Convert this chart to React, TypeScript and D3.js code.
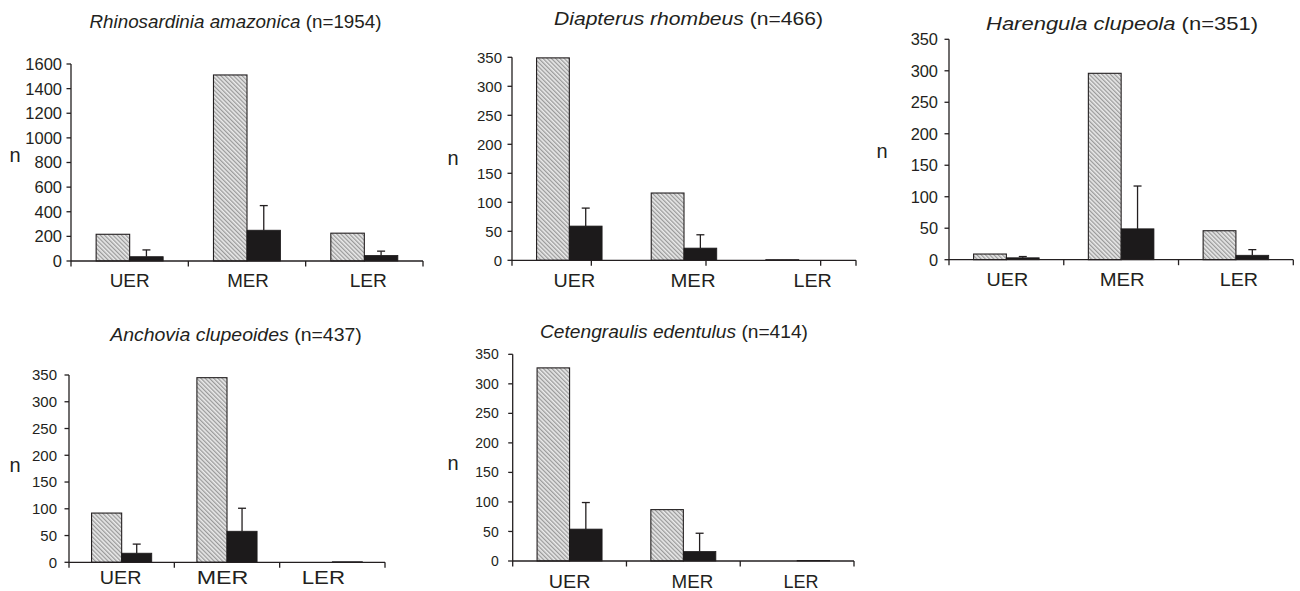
import React from "react";
import * as d3 from "d3";

// ---------- data ----------
const categories = ["UER", "MER", "LER"];

const rhinoTotal = [217, 1511, 226];
const rhinoMean = [35, 250, 45];
const rhinoSD = [55, 200, 35];

const diapTotal = [349, 116, 1];
const diapMean = [59, 21, 0];
const diapSD = [31, 23, 0];

const harenTotal = [9, 296, 46];
const harenMean = [3, 49, 7];
const harenSD = [2, 68, 9];

const anchTotal = [92, 345, 0];
const anchMean = [17, 58, 1];
const anchSD = [17, 43, 0];

const cetTotal = [327, 87, 0];
const cetMean = [54, 16, 1];
const cetSD = [45, 31, 0];

const rhinoTicks = [0, 200, 400, 600, 800, 1000, 1200, 1400, 1600];
const smallTicks = [0, 50, 100, 150, 200, 250, 300, 350];

// ---------- layout ----------
type Panel = {
  species: string;
  nText: string;
  total: number[];
  mean: number[];
  sd: number[];
  ticks: number[];
  x0: number; x1: number; yTop: number; yBottom: number;
  titleX: number; titleY: number; titleW: number;
  nX: number; nY: number;
  tickFont: number; tickGap: number;
  catY: number; catShift: number[]; catW: number[];
  xTickShift?: number;
};

const panels: Panel[] = [
  {
    species: "Rhinosardinia amazonica", nText: " (n=1954)",
    total: rhinoTotal, mean: rhinoMean, sd: rhinoSD, ticks: rhinoTicks,
    x0: 71, x1: 423, yTop: 64, yBottom: 261,
    titleX: 235.5, titleY: 28.3, titleW: 292,
    nX: 9.5, nY: 161.7, tickFont: 16.5, tickGap: 9,
    catY: 287, catShift: [0, 1, 4], catW: [40, 41.7, 37.3],
  },
  {
    species: "Diapterus rhombeus", nText: " (n=466)",
    total: diapTotal, mean: diapMean, sd: diapSD, ticks: smallTicks,
    x0: 512, x1: 856, yTop: 57.3, yBottom: 260.3,
    titleX: 688.5, titleY: 24.5, titleW: 269,
    nX: 447.5, nY: 165, tickFont: 15, tickGap: 10,
    catY: 286.7, catShift: [5, 9, 14], catW: [41.7, 45, 38.3],
    xTickShift: 22,
  },
  {
    species: "Harengula clupeola", nText: " (n=351)",
    total: harenTotal, mean: harenMean, sd: harenSD, ticks: smallTicks,
    x0: 949, x1: 1293.3, yTop: 39.3, yBottom: 259.7,
    titleX: 1122, titleY: 30, titleW: 272,
    nX: 876.5, nY: 158, tickFont: 16.4, tickGap: 11,
    catY: 286, catShift: [1, 1, 3], catW: [41.7, 45, 38.3],
  },
  {
    species: "Anchovia clupeoides", nText: " (n=437)",
    total: anchTotal, mean: anchMean, sd: anchSD, ticks: smallTicks,
    x0: 69, x1: 385, yTop: 375, yBottom: 562.3,
    titleX: 236, titleY: 340.7, titleW: 251.7,
    nX: 9.5, nY: 471.7, tickFont: 15, tickGap: 12,
    catY: 584, catShift: [-1, -4.5, -9], catW: [41.7, 51.7, 43.3],
  },
  {
    species: "Cetengraulis edentulus", nText: " (n=414)",
    total: cetTotal, mean: cetMean, sd: cetSD, ticks: smallTicks,
    x0: 512.7, x1: 854, yTop: 354.3, yBottom: 561,
    titleX: 674, titleY: 338.3, titleW: 268,
    nX: 447.5, nY: 470, tickFont: 14, tickGap: 14,
    catY: 587.5, catShift: [0, 9, 4], catW: [41.7, 41.7, 35],
  },
];

const INK = "#231f20";
const FONT = "'Liberation Sans', Arial, sans-serif";

function BarPanel({ p }: { p: Panel }) {
  const max = p.ticks[p.ticks.length - 1];
  const y = d3.scaleLinear().domain([0, max]).range([p.yBottom, p.yTop]);
  const x = d3.scaleBand<string>().domain(categories).range([p.x0, p.x1]).padding(0);
  const bw = x.bandwidth();
  const inner = d3
    .scaleBand<string>()
    .domain(["total", "mean"])
    .range([0, bw])
    .paddingInner(0)
    .paddingOuter(0.75);
  const ibw = inner.bandwidth();

  const xTicks: number[] = p.xTickShift !== undefined
    ? [...categories.map((c) => (x(c) as number) + bw / 2 + (p.xTickShift as number)), p.x1]
    : categories.map((c) => (x(c) as number) + bw);

  return (
    <g>
      <text
        x={p.titleX}
        y={p.titleY}
        textAnchor="middle"
        fontSize={18}
        fill={INK}
        textLength={p.titleW}
        lengthAdjust="spacingAndGlyphs"
      >
        <tspan fontStyle="italic">{p.species}</tspan>
        <tspan>{p.nText}</tspan>
      </text>
      <text x={p.nX} y={p.nY} fontSize={20} fill={INK}>n</text>

      {categories.map((c, i) => {
        const bx = x(c) as number;
        const tx = bx + (inner("total") as number);
        const mx = bx + (inner("mean") as number);
        const tTop = y(p.total[i]);
        const mTop = y(p.mean[i]);
        const eTop = y(p.mean[i] + p.sd[i]);
        const cx = mx + ibw / 2;
        return (
          <g key={c}>
            <rect
              x={tx}
              y={tTop}
              width={ibw}
              height={p.yBottom - tTop}
              fill="url(#hatch)"
              stroke={INK}
              strokeWidth={1.1}
            />
            {p.sd[i] > 0 && (
              <g stroke={INK} strokeWidth={1.3}>
                <line x1={cx} x2={cx} y1={mTop} y2={eTop} />
                <line x1={cx - 4} x2={cx + 4} y1={eTop} y2={eTop} />
              </g>
            )}
            <rect
              x={mx}
              y={mTop}
              width={ibw}
              height={p.yBottom - mTop}
              fill="#1c1a1b"
              stroke="#1c1a1b"
              strokeWidth={0.8}
            />
          </g>
        );
      })}

      <line x1={p.x0} x2={p.x0} y1={p.yTop} y2={p.yBottom + 5.5} stroke={INK} strokeWidth={1.3} />
      {p.ticks.map((t) => (
        <g key={t}>
          <line x1={p.x0 - 4.5} x2={p.x0} y1={y(t)} y2={y(t)} stroke={INK} strokeWidth={1.3} />
          <text
            x={p.x0 - p.tickGap}
            y={y(t) + p.tickFont * 0.36}
            textAnchor="end"
            fontSize={p.tickFont}
            fill={INK}
          >
            {t}
          </text>
        </g>
      ))}

      <line x1={p.x0} x2={p.x1} y1={p.yBottom} y2={p.yBottom} stroke={INK} strokeWidth={1.3} />
      {xTicks.map((tx, i) => (
        <line key={i} x1={tx} x2={tx} y1={p.yBottom} y2={p.yBottom + 5.5} stroke={INK} strokeWidth={1.3} />
      ))}
      {categories.map((c, i) => (
        <text
          key={c}
          x={(x(c) as number) + bw / 2 + p.catShift[i]}
          y={p.catY}
          textAnchor="middle"
          fontSize={18}
          fill={INK}
          textLength={p.catW[i]}
          lengthAdjust="spacingAndGlyphs"
        >
          {c}
        </text>
      ))}
    </g>
  );
}

export default function App() {
  return (
    <svg
      width={1300}
      height={591}
      viewBox="0 0 1300 591"
      style={{ position: "absolute", left: 0, top: 0, background: "#ffffff", fontFamily: FONT }}
    >
      <defs>
        <pattern
          id="hatch"
          patternUnits="userSpaceOnUse"
          width={3}
          height={3}
          patternTransform="rotate(-45)"
        >
          <rect x={0} y={0} width={3} height={3} fill="#eaeaea" />
          <rect x={0} y={0} width={1.3} height={3} fill="#9a9a9a" />
        </pattern>
      </defs>
      <rect x={0} y={0} width={1300} height={591} fill="#ffffff" />
      {panels.map((p, i) => (
        <BarPanel key={i} p={p} />
      ))}
    </svg>
  );
}
